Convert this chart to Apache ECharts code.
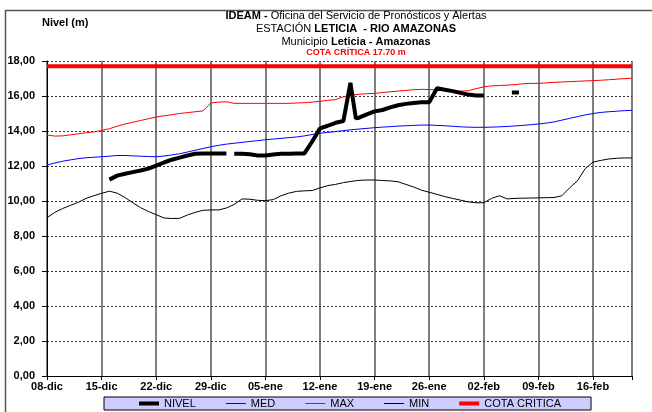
<!DOCTYPE html>
<html><head><meta charset="utf-8">
<script src="https://cdn.jsdelivr.net/npm/echarts@6/dist/echarts.min.js"></script>
<style>html,body{margin:0;padding:0;background:#fff}#c{width:652px;height:412px}</style>
</head><body><div id="c"></div>
<script>
// Tick labels every 7 days starting 08-dic (day 0)
const tickLabels = ['08-dic','15-dic','22-dic','29-dic','05-ene','12-ene','19-ene','26-ene','02-feb','09-feb','16-feb'];
const lastDay = 75; // 21-feb

// Daily values, index = day since 08-dic
const maxValues = [
  13.77, 13.71, 13.72, 13.78, 13.84, 13.9, 13.95, 14.03, 14.13, 14.27,
  14.4, 14.5, 14.6, 14.7, 14.8, 14.87, 14.93, 15.0, 15.05, 15.1,
  15.15, 15.6, 15.65, 15.67, 15.58, 15.58, 15.58, 15.58, 15.58, 15.58,
  15.58, 15.58, 15.6, 15.62, 15.65, 15.7, 15.75, 15.8, 15.95, 16.05,
  16.1, 16.13, 16.15, 16.2, 16.24, 16.28, 16.32, 16.36, 16.38, 16.37,
  16.35, 16.32, 16.3, 16.28, 16.3, 16.42, 16.52, 16.58, 16.6, 16.62,
  16.65, 16.7, 16.72, 16.72, 16.75, 16.78, 16.8, 16.82, 16.84, 16.86,
  16.88, 16.9, 16.93, 16.96, 16.99, 17.02
];
const medValues = [
  12.06, 12.17, 12.27, 12.35, 12.42, 12.47, 12.5, 12.53, 12.56, 12.6,
  12.6, 12.58, 12.56, 12.54, 12.53, 12.57, 12.63, 12.7, 12.8, 12.9,
  13.0, 13.1, 13.18, 13.25, 13.3, 13.35, 13.4, 13.45, 13.5, 13.54,
  13.58, 13.62, 13.66, 13.72, 13.8, 13.87, 13.92, 13.97, 14.02, 14.07,
  14.11, 14.15, 14.19, 14.22, 14.25, 14.28, 14.3, 14.32, 14.34, 14.34,
  14.32, 14.3, 14.27, 14.24, 14.22, 14.21, 14.21, 14.22, 14.24, 14.26,
  14.29, 14.32, 14.36, 14.4, 14.45, 14.52, 14.62, 14.72, 14.82, 14.92,
  15.0, 15.06, 15.1, 15.13, 15.16, 15.18
];
const minValues = [
  9.05, 9.35, 9.57, 9.75, 9.92, 10.15, 10.3, 10.44, 10.56, 10.45,
  10.2, 9.9, 9.62, 9.4, 9.22, 9.03, 9.0, 9.01, 9.2, 9.35,
  9.47, 9.49, 9.49, 9.6, 9.8, 10.12, 10.1, 10.04, 10.02, 10.08,
  10.3, 10.45, 10.55, 10.58, 10.6, 10.75, 10.88, 10.95, 11.05, 11.12,
  11.18, 11.2, 11.2, 11.17, 11.15, 11.1, 10.95, 10.8, 10.62, 10.5,
  10.38, 10.25, 10.15, 10.05, 9.95, 9.9, 9.9, 10.15, 10.3, 10.12,
  10.15, 10.16, 10.17, 10.18, 10.19, 10.2, 10.3, 10.75, 11.15, 11.85,
  12.22, 12.32, 12.4, 12.44, 12.46, 12.46
];
// Observed level (NIVEL): day positions and values; null = missing reading
const nivelDays = [8,9,10,11,12,13,14,15,16,17,18,19,20,21,22,23,23.5,24,25,26,27,28,29,30,31,32,33,34,35,36,37,38,38.9,39.6,40,41,42,43,44,45,46,47,48,49,50,51,52,53,54,55,56,57,59.6,60.5];
const nivelValues = [11.22,11.45,11.56,11.65,11.74,11.85,12.02,12.2,12.36,12.48,12.6,12.7,12.72,12.72,12.72,12.72,null,12.7,12.7,12.67,12.6,12.6,12.66,12.7,12.7,12.72,12.72,13.4,14.15,14.3,14.47,14.57,16.75,14.72,14.76,14.95,15.12,15.2,15.35,15.47,15.55,15.6,15.64,15.64,16.44,16.36,16.28,16.18,16.08,16.03,16.03,null,16.2,16.2];
const cotaCritica = 17.7;
const legendNames = ['NIVEL', 'MED', 'MAX', 'MIN', 'COTA CRITICA'];

const FONT = '"Liberation Sans", Arial, sans-serif';
const daily = arr => arr.map((v, i) => [i, v]);
const THIN = 'path://M0,0H20V1H0Z';
const THICK = 'path://M0,0H20V4H0Z';
const legendIcons = { 'NIVEL': THICK, 'MED': THIN, 'MAX': THIN, 'MIN': THIN, 'COTA CRITICA': THICK };
const chart = echarts.init(document.getElementById('c'));

chart.setOption({
  animation: false,
  backgroundColor: '#fff',
  textStyle: { fontFamily: FONT },
  grid: { left: 47, right: 20, top: 61, bottom: 36 },
  xAxis: {
    type: 'value', min: 0, max: lastDay, interval: 7,
    axisLine: { lineStyle: { color: '#000', width: 1 } },
    axisTick: { length: 4, lineStyle: { color: '#000' } },
    axisLabel: {
      formatter: v => (v % 7 === 0 && tickLabels[v / 7]) ? tickLabels[v / 7] : '',
      fontWeight: 'bold', fontSize: 11, color: '#000', margin: 5, fontFamily: FONT
    },
    splitLine: { show: true, lineStyle: { color: '#555', width: 1.5 } }
  },
  yAxis: {
    type: 'value', min: 0, max: 18, interval: 2,
    axisLine: { show: true, lineStyle: { color: '#000', width: 1 } },
    axisTick: { show: true, length: 5, lineStyle: { color: '#000' } },
    axisLabel: {
      formatter: v => v.toFixed(2).replace('.', ','),
      fontWeight: 'bold', fontSize: 11, color: '#000', margin: 12, fontFamily: FONT
    },
    splitLine: { show: true, lineStyle: { color: '#333', type: [2, 2], width: 1 } }
  },
  legend: {
    data: legendNames.map(n => ({ name: n, icon: legendIcons[n] })),
    left: 104, top: 397,
    padding: [1, 30, 1, 35],
    itemGap: 30, itemWidth: 20, itemHeight: 10,
    symbolKeepAspect: true,
    backgroundColor: '#ccccff', borderColor: '#000', borderWidth: 1, borderRadius: 0,
    textStyle: { fontSize: 11, color: '#000', fontFamily: FONT }
  },
  series: [
    { name: 'MIN', type: 'line', data: daily(minValues), symbol: 'none', lineStyle: { color: '#000', width: 1 }, itemStyle: { color: '#000' }, z: 3 },
    { name: 'MED', type: 'line', data: daily(medValues), symbol: 'none', lineStyle: { color: '#0000ff', width: 1 }, itemStyle: { color: '#0000ff' }, z: 3 },
    { name: 'MAX', type: 'line', data: daily(maxValues), symbol: 'none', lineStyle: { color: '#ff0000', width: 1 }, itemStyle: { color: '#ff0000' }, z: 3 },
    { name: 'COTA CRITICA', type: 'line', data: [[0, cotaCritica], [lastDay, cotaCritica]], symbol: 'none', lineStyle: { color: '#ff0000', width: 4 }, itemStyle: { color: '#ff0000' }, z: 4 },
    { name: 'NIVEL', type: 'line', data: nivelDays.map((d, i) => [d, nivelValues[i]]), symbol: 'none', connectNulls: false, lineStyle: { color: '#000', width: 4 }, itemStyle: { color: '#000' }, z: 5 }
  ],
  graphic: [
    { type: 'rect', shape: { x: 5.5, y: 10.5, width: 700, height: 500 }, style: { fill: 'none', stroke: '#555', lineWidth: 1.5 }, silent: true },
    { type: 'text', x: 42, y: 23, style: { text: 'Nivel (m)', fontFamily: FONT, fontSize: 11, fontWeight: 'bold', fill: '#000', textVerticalAlign: 'middle' } },
    { type: 'text', x: 356, y: 16, style: {
        text: '{b|IDEAM -} {n|Oficina del Servicio de Pronósticos y Alertas}',
        rich: { b: { fontFamily: FONT, fontSize: 11, fontWeight: 'bold', fill: '#000' }, n: { fontFamily: FONT, fontSize: 11, fill: '#000' } },
        fontFamily: FONT, fontSize: 11, textAlign: 'center', textVerticalAlign: 'middle', fill: '#000' } },
    { type: 'text', x: 356, y: 29, style: {
        text: '{n|ESTACIÓN} {b|LETICIA  - RIO AMAZONAS}',
        rich: { b: { fontFamily: FONT, fontSize: 11, fontWeight: 'bold', fill: '#000' }, n: { fontFamily: FONT, fontSize: 11, fill: '#000' } },
        fontFamily: FONT, fontSize: 11, textAlign: 'center', textVerticalAlign: 'middle', fill: '#000' } },
    { type: 'text', x: 356, y: 42, style: {
        text: '{n|Municipio} {b|Leticia - Amazonas}',
        rich: { b: { fontFamily: FONT, fontSize: 11, fontWeight: 'bold', fill: '#000' }, n: { fontFamily: FONT, fontSize: 11, fill: '#000' } },
        fontFamily: FONT, fontSize: 11, textAlign: 'center', textVerticalAlign: 'middle', fill: '#000' } },
    { type: 'text', x: 356, y: 53, style: {
        text: 'COTA CRÍTICA 17.70 m', fontFamily: FONT, fontSize: 9, fontWeight: 'bold', fill: '#ff0000',
        textAlign: 'center', textVerticalAlign: 'middle' } }
  ]
});
</script>
</body></html>
